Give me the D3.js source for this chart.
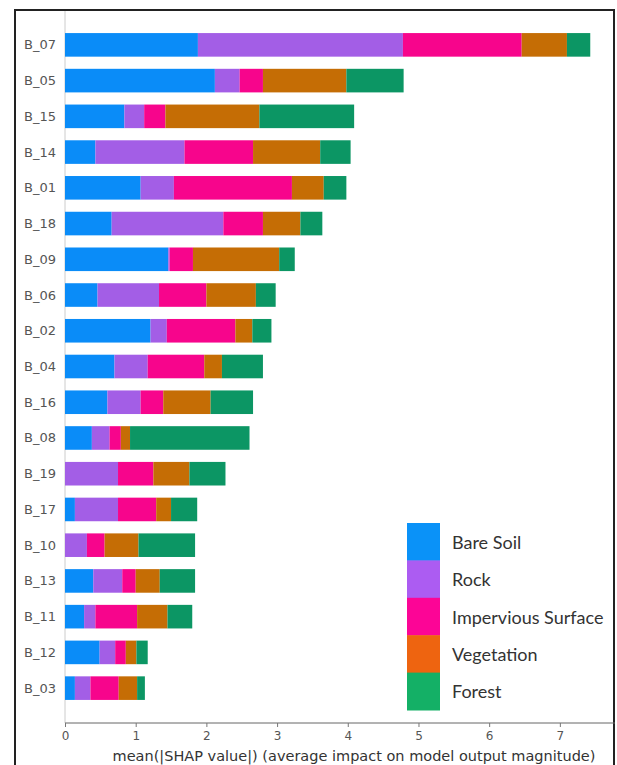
<!DOCTYPE html>
<html>
<head>
<meta charset="utf-8">
<script src="https://cdn.jsdelivr.net/npm/d3@7"></script>
<style>
  html, body { margin: 0; padding: 0; background: #fff; }
  svg { display: block; }
</style>
</head>
<body>
<svg id="chart" width="617" height="765"></svg>
<script>
const features = ["B_07","B_05","B_15","B_14","B_01","B_18","B_09","B_06","B_02","B_04","B_16","B_08","B_19","B_17","B_10","B_13","B_11","B_12","B_03"];
const classes = ["Bare Soil","Rock","Impervious Surface","Vegetation","Forest"];
const bareSoil   = [1.88,2.12,0.84,0.43,1.07,0.66,1.46,0.46,1.21,0.70,0.60,0.38,0.00,0.14,0.00,0.40,0.27,0.49,0.14];
const rock       = [2.90,0.35,0.28,1.26,0.47,1.58,0.02,0.87,0.23,0.47,0.47,0.25,0.75,0.61,0.31,0.41,0.16,0.22,0.22];
const impervious = [1.68,0.33,0.30,0.97,1.67,0.56,0.33,0.67,0.97,0.80,0.32,0.16,0.50,0.54,0.25,0.19,0.59,0.15,0.40];
const vegetation = [0.64,1.18,1.33,0.95,0.45,0.53,1.22,0.70,0.24,0.25,0.67,0.13,0.51,0.21,0.48,0.34,0.43,0.15,0.26];
const forest     = [0.33,0.81,1.34,0.43,0.32,0.31,0.22,0.28,0.27,0.58,0.60,1.69,0.51,0.37,0.80,0.50,0.35,0.16,0.11];
const xTicks = [0,1,2,3,4,5,6,7];
const barColors = ["#0a8cf8","#a35ee6","#f7058c","#c56d05","#0c9664"];
const legendColors = ["#0a92f8","#ac5cf2","#fc0596","#ee6410","#14b066"];
const xTitle = "mean(|SHAP value|) (average impact on model output magnitude)";

(function () {
const series = [bareSoil, rock, impervious, vegetation, forest];
const rows = features.map((f, i) => {
  const o = {feature: f};
  classes.forEach((c, j) => o[c] = series[j][i]);
  return o;
});
const stacked = d3.stack().keys(classes)(rows);

const svg = d3.select("#chart");
const mLeft = 65, mRight = 615, mTop = 27, mBottom = 706;
const x = d3.scaleLinear().domain([0, 7.78]).range([mLeft, mRight]);
const y = d3.scaleBand().domain(features).range([mTop, mBottom]).paddingInner(0.34).paddingOuter(0.17);
const color = d3.scaleOrdinal().domain(classes).range(barColors);

// outer frame
svg.append("rect").attr("x", 15).attr("y", 10).attr("width", 599).attr("height", 770)
  .attr("fill", "none").attr("stroke", "#222").attr("stroke-width", 2);

// left spine
svg.append("line").attr("x1", mLeft).attr("x2", mLeft).attr("y1", 11).attr("y2", 723)
  .attr("stroke", "#ccc").attr("stroke-width", 1);

// bars
svg.append("g").selectAll("g").data(stacked).join("g")
  .attr("fill", d => color(d.key))
  .selectAll("rect").data(d => d).join("rect")
  .attr("x", d => x(d[0]))
  .attr("y", d => y(d.data.feature))
  .attr("width", d => Math.max(0, x(d[1]) - x(d[0])))
  .attr("height", y.bandwidth());

// y labels
svg.append("g").selectAll("text").data(features).join("text")
  .attr("x", 56).attr("y", d => y(d) + y.bandwidth() / 2)
  .attr("text-anchor", "end").attr("dominant-baseline", "central")
  .attr("font-family", "DejaVu Sans").attr("font-size", 13).attr("fill", "#555")
  .text(d => d);

// x axis
const xAxis = d3.axisBottom(x).tickValues(xTicks).tickFormat(d3.format("d")).tickSize(4).tickPadding(4);
const gx = svg.append("g").attr("transform", "translate(0,723)").call(xAxis);
gx.select(".domain").attr("stroke", "#666").attr("d", `M${mLeft},0H${mRight}`);
gx.selectAll(".tick line").attr("stroke", "#777");
gx.selectAll(".tick text").attr("font-family", "DejaVu Sans").attr("font-size", 12).attr("fill", "#555");

svg.append("text").attr("x", 354).attr("y", 756)
  .attr("text-anchor", "middle").attr("dominant-baseline", "central")
  .attr("font-family", "DejaVu Sans").attr("font-size", 14.5).attr("fill", "#333")
  .text(xTitle);

// legend
const lg = svg.append("g").attr("transform", "translate(407,523)");
const sw = 37.4;
lg.selectAll("rect").data(classes).join("rect")
  .attr("x", 0).attr("y", (d, i) => i * sw).attr("width", 33).attr("height", sw + 0.5)
  .attr("fill", (d, i) => legendColors[i]);
lg.selectAll("text").data(classes).join("text")
  .attr("x", 45).attr("y", (d, i) => i * sw + sw / 2)
  .attr("dominant-baseline", "central")
  .attr("font-family", "Lato").attr("font-size", 18).attr("fill", "#333")
  .text(d => d);
})();
</script>
</body>
</html>
